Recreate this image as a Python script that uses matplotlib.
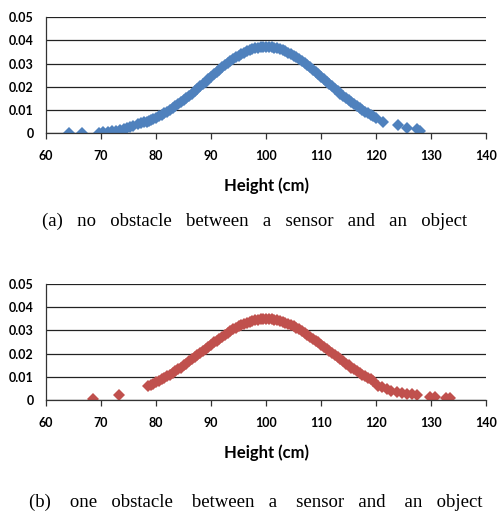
import matplotlib
matplotlib.use("Agg")
import matplotlib.pyplot as plt

# (a) no obstacle: height (cm) vs probability
top_x = [64.2, 66.5, 69.7, 70.4, 71.3, 72.0, 72.8, 73.5, 74.2, 74.7, 75.3, 75.9,
         76.8, 77.3, 77.8, 78.3, 78.7,
         79.0, 79.5, 80.0, 80.5, 81.0, 81.5, 82.0, 82.5, 83.0, 83.5, 84.0, 84.5,
         85.0, 85.5, 86.0, 86.5, 87.0, 87.5, 88.0, 88.5, 89.0, 89.5, 90.0, 90.5,
         91.0, 91.5, 92.0, 92.5, 93.0, 93.5, 94.0, 94.5, 95.0, 95.5, 96.0, 96.5,
         97.0, 97.5, 98.0, 98.5, 99.0, 99.5, 100.0, 100.5, 101.0, 101.5, 102.0,
         102.5, 103.0, 103.5, 104.0, 104.5, 105.0, 105.5, 106.0, 106.5, 107.0,
         107.5, 108.0, 108.5, 109.0, 109.5, 110.0, 110.5, 111.0, 111.5, 112.0,
         112.5, 113.0, 113.5, 114.0, 114.5, 115.0, 115.5, 116.0, 116.5, 117.0,
         117.5, 118.0, 118.5, 119.0, 119.5, 120.0,
         121.3, 124.0, 125.6, 127.5, 128.0]
top_y = [0.0, 0.0, 0.0002, 0.0003, 0.0004, 0.0008, 0.0011, 0.0014, 0.0019, 0.0022,
         0.0026, 0.0030, 0.0040, 0.0043, 0.0046, 0.0050, 0.0053,
         0.0056, 0.0061, 0.0067, 0.0073, 0.0079, 0.0086, 0.0093, 0.0100, 0.0108,
         0.0116, 0.0124, 0.0133, 0.0142, 0.0151, 0.0161, 0.0170, 0.0180, 0.0190,
         0.0201, 0.0211, 0.0221, 0.0232, 0.0242, 0.0253, 0.0263, 0.0273, 0.0283,
         0.0292, 0.0301, 0.0310, 0.0319, 0.0327, 0.0334, 0.0341, 0.0347, 0.0353,
         0.0358, 0.0362, 0.0366, 0.0368, 0.0370, 0.0372, 0.0372, 0.0372, 0.0370,
         0.0368, 0.0366, 0.0362, 0.0358, 0.0353, 0.0347, 0.0341, 0.0334, 0.0327,
         0.0319, 0.0310, 0.0301, 0.0292, 0.0283, 0.0273, 0.0263, 0.0253, 0.0242,
         0.0232, 0.0221, 0.0211, 0.0201, 0.0190, 0.0180, 0.0170, 0.0161, 0.0151,
         0.0142, 0.0133, 0.0124, 0.0116, 0.0108, 0.0100, 0.0093, 0.0086, 0.0079,
         0.0073, 0.0067,
         0.0049, 0.0034, 0.0023, 0.0016, 0.0010]

# (b) one obstacle
bot_x = [68.5, 73.3,
         78.5, 79.0, 79.5, 80.0, 80.5, 81.0, 81.5, 82.0, 82.5, 83.0, 83.5, 84.0,
         84.5, 85.0, 85.5, 86.0, 86.5, 87.0, 87.5, 88.0, 88.5, 89.0, 89.5, 90.0,
         90.5, 91.0, 91.5, 92.0, 92.5, 93.0, 93.5, 94.0, 94.5, 95.0, 95.5, 96.0,
         96.5, 97.0, 97.5, 98.0, 98.5, 99.0, 99.5, 100.0, 100.5, 101.0, 101.5,
         102.0, 102.5, 103.0, 103.5, 104.0, 104.5, 105.0, 105.5, 106.0, 106.5,
         107.0, 107.5, 108.0, 108.5, 109.0, 109.5, 110.0, 110.5, 111.0, 111.5,
         112.0, 112.5, 113.0, 113.5, 114.0, 114.5, 115.0, 115.5, 116.0, 116.5,
         117.0, 117.5, 118.0, 118.5, 119.0, 119.5,
         120.3, 121.0, 121.9, 122.8, 123.8, 124.7, 125.6, 126.5, 127.4,
         129.8, 130.7, 132.7, 133.5]
bot_y = [0.0004, 0.0021,
         0.0061, 0.0066, 0.0071, 0.0077, 0.0083, 0.0089, 0.0095, 0.0102, 0.0109,
         0.0117, 0.0124, 0.0132, 0.0140, 0.0149, 0.0157, 0.0166, 0.0175, 0.0184,
         0.0193, 0.0202, 0.0211, 0.0220, 0.0230, 0.0239, 0.0248, 0.0256, 0.0265,
         0.0273, 0.0281, 0.0289, 0.0297, 0.0304, 0.0310, 0.0317, 0.0322, 0.0328,
         0.0332, 0.0336, 0.0340, 0.0343, 0.0345, 0.0347, 0.0348, 0.0348, 0.0348,
         0.0347, 0.0345, 0.0343, 0.0340, 0.0336, 0.0332, 0.0328, 0.0322, 0.0317,
         0.0310, 0.0304, 0.0297, 0.0289, 0.0281, 0.0273, 0.0265, 0.0256, 0.0248,
         0.0239, 0.0230, 0.0220, 0.0211, 0.0202, 0.0193, 0.0184, 0.0175, 0.0166,
         0.0157, 0.0149, 0.0140, 0.0132, 0.0124, 0.0117, 0.0109, 0.0102, 0.0095,
         0.0089, 0.0083,
         0.0060, 0.0054, 0.0047, 0.0040, 0.0033, 0.0030, 0.0027, 0.0024, 0.0022,
         0.0013, 0.0013, 0.0010, 0.0010]

x_ticks = [60, 70, 80, 90, 100, 110, 120, 130, 140]
y_ticks = [0, 0.01, 0.02, 0.03, 0.04, 0.05]
y_labels = ["0", "0.01", "0.02", "0.03", "0.04", "0.05"]

captions = ["(a)   no   obstacle   between   a   sensor   and   an   object",
            "(b)    one   obstacle    between   a    sensor   and    an   object"]

tick_font = {"family": "Lato", "weight": "bold", "size": 9}
label_font = {"family": "Lato", "weight": "bold", "size": 12}


def style_axes(ax):
    ax.set_xlim(60, 140)
    ax.set_ylim(0, 0.05)
    ax.set_xticks(x_ticks)
    ax.set_xticklabels([str(t) for t in x_ticks], fontdict=tick_font)
    ax.set_yticks(y_ticks)
    ax.set_yticklabels(y_labels, fontdict=tick_font)
    ax.tick_params(axis="x", direction="out", length=4, width=0.9,
                   color="#333333", pad=8)
    ax.tick_params(axis="y", length=0, pad=9)
    for s in ["top", "right"]:
        ax.spines[s].set_visible(False)
    for s in ["left", "bottom"]:
        ax.spines[s].set_color("#333333")
        ax.spines[s].set_linewidth(0.9)
    ax.yaxis.grid(True, color="#222222", linewidth=0.9)
    ax.set_axisbelow(True)
    ax.set_xlabel("Height (cm)", fontdict=label_font, labelpad=11)


fig = plt.figure(figsize=(4.97, 5.14), dpi=100)
ax1 = fig.add_axes([0.0926, 0.741, 0.8854, 0.2257])
ax2 = fig.add_axes([0.0926, 0.2218, 0.8854, 0.2257])

ax1.plot(top_x, top_y, linestyle="none", marker="D", markersize=6.5,
         markeredgewidth=0, color="#4F81BD")
ax2.plot(bot_x, bot_y, linestyle="none", marker="D", markersize=6.5,
         markeredgewidth=0, color="#C0504D")
style_axes(ax1)
style_axes(ax2)

fig.text(0.513, 1 - 221 / 514, captions[0], ha="center", va="center",
         fontsize=13.5, family="Liberation Serif")
fig.text(0.515, 1 - 502 / 514, captions[1], ha="center", va="center",
         fontsize=13.5, family="Liberation Serif")

fig.savefig("out.png", dpi=100)
